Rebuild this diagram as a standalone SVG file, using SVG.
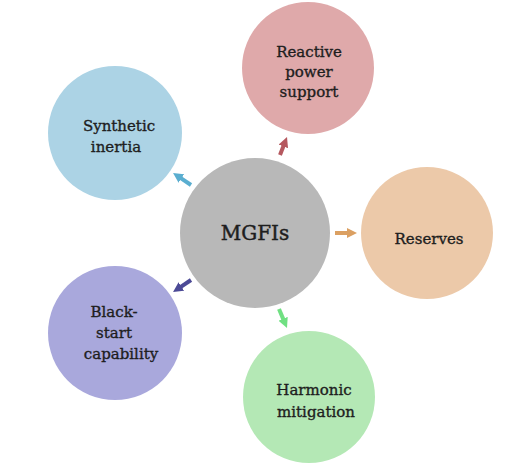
<svg xmlns="http://www.w3.org/2000/svg" width="531" height="470" viewBox="0 0 531 470">
<style>
.lbl{font-family:"DejaVu Serif","Liberation Serif",serif;font-size:15px;fill:#1e1e1e;stroke:#1e1e1e;stroke-width:0.35;text-anchor:middle}
.big{font-size:20px;stroke-width:0.45}
.ar{stroke-width:4;fill:none}
</style>
<defs>
<marker id="mr" viewBox="0 0 10 10" refX="2" refY="5" markerWidth="10" markerHeight="11" markerUnits="userSpaceOnUse" orient="auto"><path d="M0,0 L10,5 L0,10 z" fill="#b5585f"/></marker>
<marker id="mb" viewBox="0 0 10 10" refX="2" refY="5" markerWidth="10" markerHeight="11" markerUnits="userSpaceOnUse" orient="auto"><path d="M0,0 L10,5 L0,10 z" fill="#5aaed0"/></marker>
<marker id="mo" viewBox="0 0 10 10" refX="2" refY="5" markerWidth="10" markerHeight="11" markerUnits="userSpaceOnUse" orient="auto"><path d="M0,0 L10,5 L0,10 z" fill="#dba062"/></marker>
<marker id="mp" viewBox="0 0 10 10" refX="2" refY="5" markerWidth="10" markerHeight="11" markerUnits="userSpaceOnUse" orient="auto"><path d="M0,0 L10,5 L0,10 z" fill="#4c4a96"/></marker>
<marker id="mg" viewBox="0 0 10 10" refX="2" refY="5" markerWidth="10" markerHeight="11" markerUnits="userSpaceOnUse" orient="auto"><path d="M0,0 L10,5 L0,10 z" fill="#70e082"/></marker>
</defs>
<rect width="531" height="470" fill="#ffffff"/>
<g id="center">
<circle cx="255" cy="233" r="75" fill="#b8b8b8"/>
<text class="lbl big" x="255" y="240">MGFIs</text>
</g>
<g id="reactive">
<circle cx="308" cy="68" r="66" fill="#dfa9aa"/>
<text class="lbl" x="309" y="57">Reactive</text>
<text class="lbl" x="309" y="77">power</text>
<text class="lbl" x="309" y="97">support</text>
</g>
<g id="synthetic">
<circle cx="115" cy="133" r="67" fill="#acd3e5"/>
<text class="lbl" x="119" y="131">Synthetic</text>
<text class="lbl" x="116" y="152">inertia</text>
</g>
<g id="reserves">
<circle cx="427" cy="233" r="66" fill="#ecc9a9"/>
<text class="lbl" x="429" y="244">Reserves</text>
</g>
<g id="blackstart">
<circle cx="115" cy="333" r="67" fill="#a9a8dc"/>
<text class="lbl" x="114" y="317">Black-</text>
<text class="lbl" x="114" y="338">start</text>
<text class="lbl" x="121" y="359">capability</text>
</g>
<g id="harmonic">
<circle cx="309" cy="397" r="66" fill="#b4e8b5"/>
<text class="lbl" x="314" y="395">Harmonic</text>
<text class="lbl" x="316" y="417">mitigation</text>
</g>
<g id="connectors">
<line class="ar" x1="280" y1="155" x2="284.1" y2="144.5" stroke="#b5585f" marker-end="url(#mr)"/>
<line class="ar" x1="191" y1="185" x2="179.7" y2="177.4" stroke="#5aaed0" marker-end="url(#mb)"/>
<line class="ar" x1="335" y1="233" x2="349" y2="233" stroke="#dba062" marker-end="url(#mo)"/>
<line class="ar" x1="191" y1="280" x2="179.7" y2="287.6" stroke="#4c4a96" marker-end="url(#mp)"/>
<line class="ar" x1="279" y1="309" x2="283.9" y2="320.6" stroke="#70e082" marker-end="url(#mg)"/>
</g>
</svg>
